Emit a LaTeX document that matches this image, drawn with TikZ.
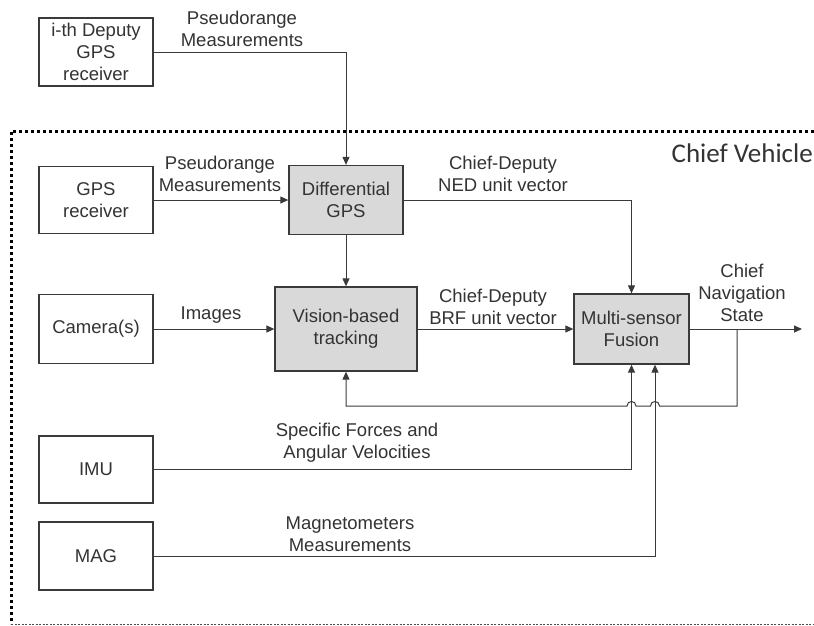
\documentclass[tikz,border=0pt]{standalone}
\usepackage{fontspec}
\setmainfont{Liberation Sans}
\newfontfamily\titlefont{Carlito}
\usetikzlibrary{arrows.meta,calc}

\definecolor{ink}{HTML}{333333}
\definecolor{wire}{HTML}{3A3A3A}
\definecolor{blockfill}{HTML}{D9D9D9}

\begin{document}
\begin{tikzpicture}[x=1pt,y=-1pt,
  txt/.style={text=ink, align=center, inner sep=0pt, font=\fontsize{18.5}{22}\selectfont},
  block/.style={txt, draw=wire, line width=1.3pt, fill=white},
  procblock/.style={block, fill=blockfill},
  arr/.style={draw=wire, line width=1pt, -{Triangle[length=8pt,width=7pt]}},
  vehicle/.style={draw=black, line width=3pt, dash pattern=on 3pt off 3pt},
  vehiclebase/.style={draw=black!70, line width=1pt, dash pattern=on 2pt off 1.5pt}]

\useasboundingbox (0,0) rectangle (814,625);

% vehicle boundary
\draw[vehicle] (814,131) -- (11,131) -- (11,624);
\draw[vehiclebase] (11,624) -- (814,624);
\node[text=ink, inner sep=0pt, anchor=east, font=\titlefont\fontsize{27}{31}\selectfont] (veh) at (813,153) {Chief Vehicle};

% sensors
\node[block, minimum width=114pt, minimum height=68pt] (dep) at (96,52) {i-th Deputy\\GPS\\receiver};
\node[block, minimum width=114pt, minimum height=67pt] (gps) at (96,200) {GPS\\receiver};
\node[block, minimum width=114pt, minimum height=69pt] (cam) at (96,329) {Camera(s)};
\node[block, minimum width=114pt, minimum height=67pt] (imu) at (96,469.5) {IMU};
\node[block, minimum width=114pt, minimum height=68pt] (mag) at (96,556) {MAG};

% processing blocks
\node[procblock, minimum width=114pt, minimum height=69pt] (dgps) at (346,200) {Differential\\GPS};
\node[procblock, minimum width=142pt, minimum height=84pt] (vis) at (346,329) {Vision-based\\tracking};
\node[procblock, minimum width=115pt, minimum height=70pt] (fus) at (631.5,329) {Multi-sensor\\Fusion};

% helper points
\coordinate (out) at (802,329);
\coordinate (tap) at (737,329);
\coordinate (magin) at ($(fus.south)+(23.5,0)$);

% connectors
\draw[arr] (dep.east) -| (dgps.north);
\draw[arr] (gps.east) -- (dgps.west);
\draw[arr] (dgps.east) -| (fus.north);
\draw[arr] (dgps.south) -- (vis.north);
\draw[arr] (cam.east) -- (vis.west);
\draw[arr] (vis.east) -- (fus.west);
\draw[arr] (fus.east) -- (out);
\draw[arr] (imu.east) -| (fus.south);
\draw[arr] (mag.east) -| (magin);
\draw[arr] (tap) -- (737,406) -- (659.5,406)
  .. controls (659.5,400) and (650.5,400) .. (650.5,406) -- (636,406)
  .. controls (636,400) and (627,400) .. (627,406) -| (vis.south);

% connector labels
\node[txt] (l1) at (242,29) {Pseudorange\\Measurements};
\node[txt] (l2) at (220,174) {Pseudorange\\Measurements};
\node[txt] (l3) at (503,174) {Chief-Deputy\\NED unit vector};
\node[txt] (l4) at (211,315) {Images};
\node[txt] (l5) at (493,306.5) {Chief-Deputy\\BRF unit vector};
\node[txt] (l6) at (742,292.5) {Chief\\Navigation\\State};
\node[txt] (l7) at (357,443) {Specific Forces and\\Angular Velocities};
\node[txt] (l8) at (350,534) {Magnetometers\\Measurements};
\end{tikzpicture}
\end{document}
